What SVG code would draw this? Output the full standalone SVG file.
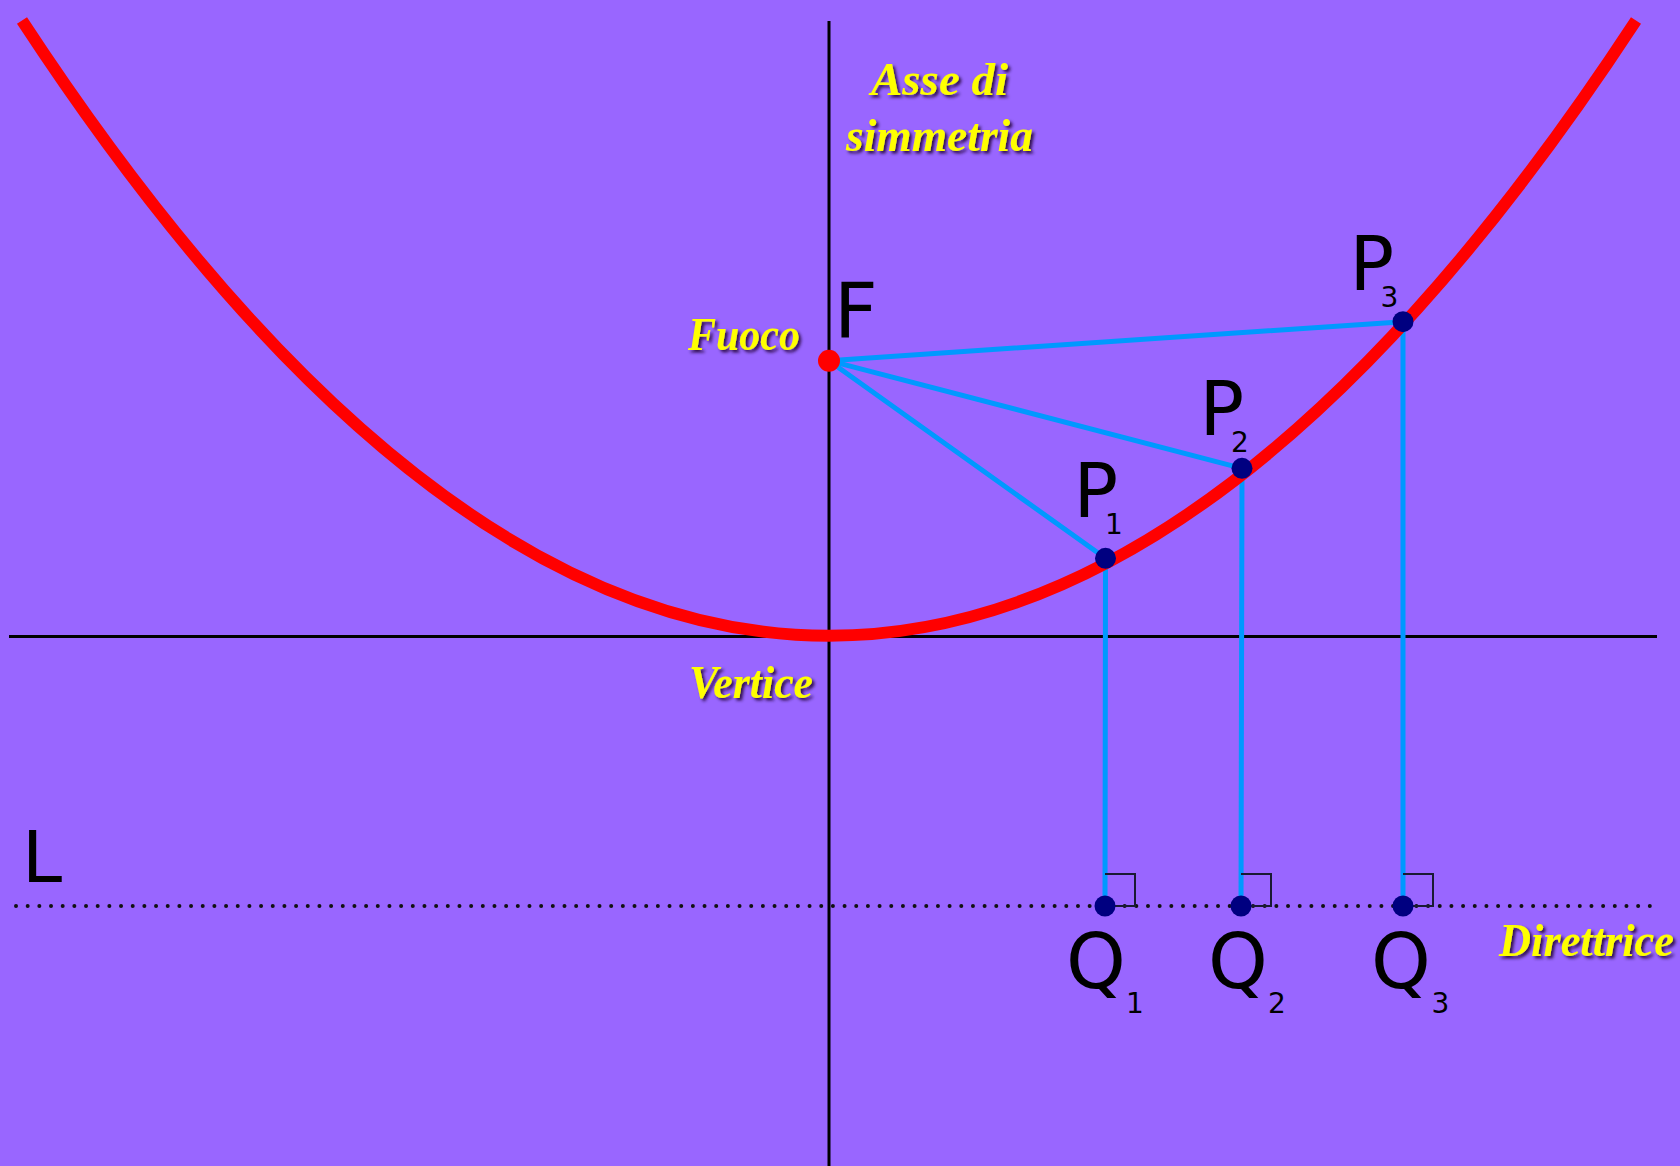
<svg xmlns="http://www.w3.org/2000/svg" width="1680" height="1166" viewBox="0 0 1680 1166">
<style>
.lbl{font-family:"DejaVu Sans",sans-serif;fill:#000}
.big{font-size:74px}
.sub{font-size:28px}
.q{font-size:76px}
.script{font-family:"Liberation Serif",serif;font-style:italic;font-weight:bold;font-size:46px;fill:#ffff00;filter:url(#sh)}
.conn{stroke:#0099ff;stroke-width:5;fill:none;stroke-linecap:round}
.pt{fill:#000080}
.ra{fill:none;stroke:#1a1a33;stroke-width:2}
</style>
<defs>
<filter id="sh" x="-10%" y="-20%" width="130%" height="160%">
<feDropShadow dx="2.5" dy="2.5" stdDeviation="1.5" flood-color="#1a0033" flood-opacity="0.85"/>
</filter>
</defs>
<rect width="1680" height="1166" fill="#9966ff"/>
<g id="axes" stroke="#000" stroke-width="3">
<line x1="829" y1="21" x2="829" y2="1166"/>
<line x1="9" y1="636.5" x2="1657" y2="636.5"/>
</g>
<g id="directrix">
<line x1="16" y1="906" x2="1657" y2="906" stroke="#111" stroke-width="4" stroke-linecap="round" stroke-dasharray="0 11.67"/>
</g>
<g id="connectors">
<line class="conn" x1="829" y1="360.7" x2="1105.5" y2="558.3"/>
<line class="conn" x1="829" y1="360.7" x2="1242" y2="468.3"/>
<line class="conn" x1="829" y1="360.7" x2="1403" y2="321.7"/>
<line class="conn" x1="1105.5" y1="558.3" x2="1105" y2="906"/>
<line class="conn" x1="1242" y1="468.3" x2="1241" y2="906"/>
<line class="conn" x1="1403" y1="321.7" x2="1403" y2="906"/>
</g>
<g id="parabola">
<path d="M22 20.5 Q829 1251 1636 20.5" fill="none" stroke="#ff0000" stroke-width="12"/>
</g>
<g id="right-angles">
<polyline class="ra" points="1105,874 1135,874 1135,906 1105,906"/>
<polyline class="ra" points="1241,874 1271,874 1271,906 1241,906"/>
<polyline class="ra" points="1403,874 1433,874 1433,906 1403,906"/>
</g>
<g id="F">
<circle cx="829" cy="360.7" r="11" fill="#ff0000"/>
<text class="lbl" x="834" y="338" font-size="76">F</text>
</g>
<g id="P1">
<circle class="pt" cx="1105.5" cy="558.3" r="10.5"/>
<text class="lbl big" x="1073.5" y="517">P</text>
<text class="lbl sub" x="1105" y="534">1</text>
</g>
<g id="P2">
<circle class="pt" cx="1242" cy="468.3" r="10.5"/>
<text class="lbl big" x="1199.5" y="435">P</text>
<text class="lbl sub" x="1231" y="452">2</text>
</g>
<g id="P3">
<circle class="pt" cx="1403" cy="321.7" r="10.5"/>
<text class="lbl big" x="1349.5" y="290">P</text>
<text class="lbl sub" x="1380.5" y="307">3</text>
</g>
<g id="Q1">
<circle class="pt" cx="1105" cy="906" r="10.5"/>
<text class="lbl q" x="1066" y="988">Q</text>
<text class="lbl sub" x="1126" y="1013">1</text>
</g>
<g id="Q2">
<circle class="pt" cx="1241" cy="906" r="10.5"/>
<text class="lbl q" x="1208" y="988">Q</text>
<text class="lbl sub" x="1268" y="1013">2</text>
</g>
<g id="Q3">
<circle class="pt" cx="1403" cy="906" r="10.5"/>
<text class="lbl q" x="1371" y="988">Q</text>
<text class="lbl sub" x="1431.5" y="1013">3</text>
</g>
<g id="L">
<text class="lbl" font-size="72" x="22" y="882">L</text>
</g>
<g id="labels">
<text class="script" x="871" y="95" textLength="137" lengthAdjust="spacingAndGlyphs">Asse di</text>
<text class="script" x="846" y="151" textLength="187" lengthAdjust="spacingAndGlyphs">simmetria</text>
<text class="script" x="688" y="350" textLength="112" lengthAdjust="spacingAndGlyphs">Fuoco</text>
<text class="script" x="689" y="698" textLength="124" lengthAdjust="spacingAndGlyphs">Vertice</text>
<text class="script" x="1499" y="956" textLength="175" lengthAdjust="spacingAndGlyphs">Direttrice</text>
</g>
</svg>
